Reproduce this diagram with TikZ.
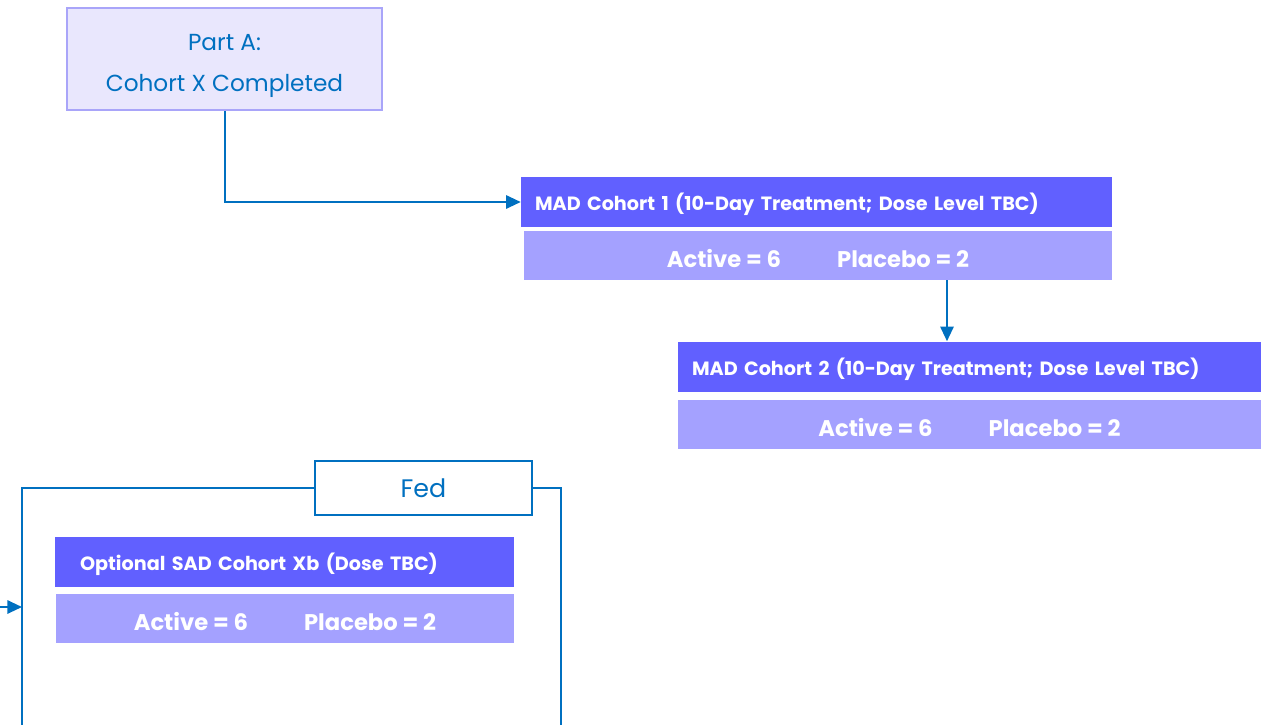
\documentclass[tikz,border=0pt]{standalone}
\usepackage{fontspec}
\setmainfont{Poppins}
\usetikzlibrary{arrows.meta}
\definecolor{linkblue}{HTML}{0070C0}
\definecolor{headviolet}{HTML}{6160FF}
\definecolor{bodyviolet}{HTML}{A4A1FF}
\definecolor{partfill}{HTML}{E9E7FD}
\definecolor{partline}{HTML}{A9A5F9}
\begin{document}
\begin{tikzpicture}[x=0.75pt,y=-0.75pt,
  link/.style={linkblue,line width=1.5pt,-{Triangle[length=11pt,width=10pt]}},
  frameline/.style={linkblue,line width=1.5pt},
  head/.style={fill=headviolet,text=white,inner xsep=10.5pt,inner ysep=0pt,align=left,
    minimum height=37.5pt,text height=13pt,text depth=0pt,font=\bfseries\fontsize{14.4}{16}\selectfont},
  body/.style={fill=bodyviolet,text=white,inner sep=0pt,minimum height=36.75pt,
    text height=18pt,text depth=0pt,font=\bfseries\fontsize{17}{19}\selectfont}]
  \useasboundingbox (0,0) rectangle (1261,725);
  % start box
  \node[draw=partline,line width=1.5pt,fill=partfill,text=linkblue,minimum width=236.25pt,
    minimum height=76.5pt,align=center,font=\fontsize{17.4}{30.75}\selectfont]
    (partA) at (224.5,59) {\rule{0pt}{22pt}Part A:\\Cohort X Completed};
  % MAD cohorts
  \node[head,text width=422.25pt] (mad1h) at (816.5,202) {MAD Cohort 1 (10-Day Treatment; Dose Level TBC)};
  \node[body,minimum width=441pt] (mad1b) at (818,255.5) {Active = 6\hspace{42pt}Placebo = 2};
  \node[head,text width=416.25pt] (mad2h) at (969.5,366.5) {MAD Cohort 2 (10-Day Treatment; Dose Level TBC)};
  \node[body,minimum width=437.25pt] (mad2b) at (969.5,424) {Active = 6\hspace{42pt}Placebo = 2};
  % fed frame
  \node[draw=linkblue,line width=1.5pt,fill=white,text=linkblue,minimum width=162.75pt,
    minimum height=40.5pt,font=\fontsize{19}{21}\selectfont] (fed) at (423.5,488) {Fed};
  \coordinate (frameL) at (22,725);
  \coordinate (frameR) at (561,725);
  \coordinate (feedin) at (0,607);
  \draw[frameline] (frameL) |- (fed.west);
  \draw[frameline] (fed.east) -| (frameR);
  \node[head,inner xsep=18.75pt,text width=306.75pt] (sadh) at (284.5,562) {Optional SAD Cohort Xb (Dose TBC)};
  \node[body,minimum width=343.5pt] (sadb) at (285,618) {Active = 6\hspace{42pt}Placebo = 2};
  % connectors
  \draw[link] (partA.south) |- (mad1h.west);
  \draw[link] ([xshift=96.75pt]mad1b.south) -- ([xshift=96.75pt]mad1b.south |- mad2h.north);
  \draw[link] (feedin) -- (feedin -| frameL);
\end{tikzpicture}
\end{document}
